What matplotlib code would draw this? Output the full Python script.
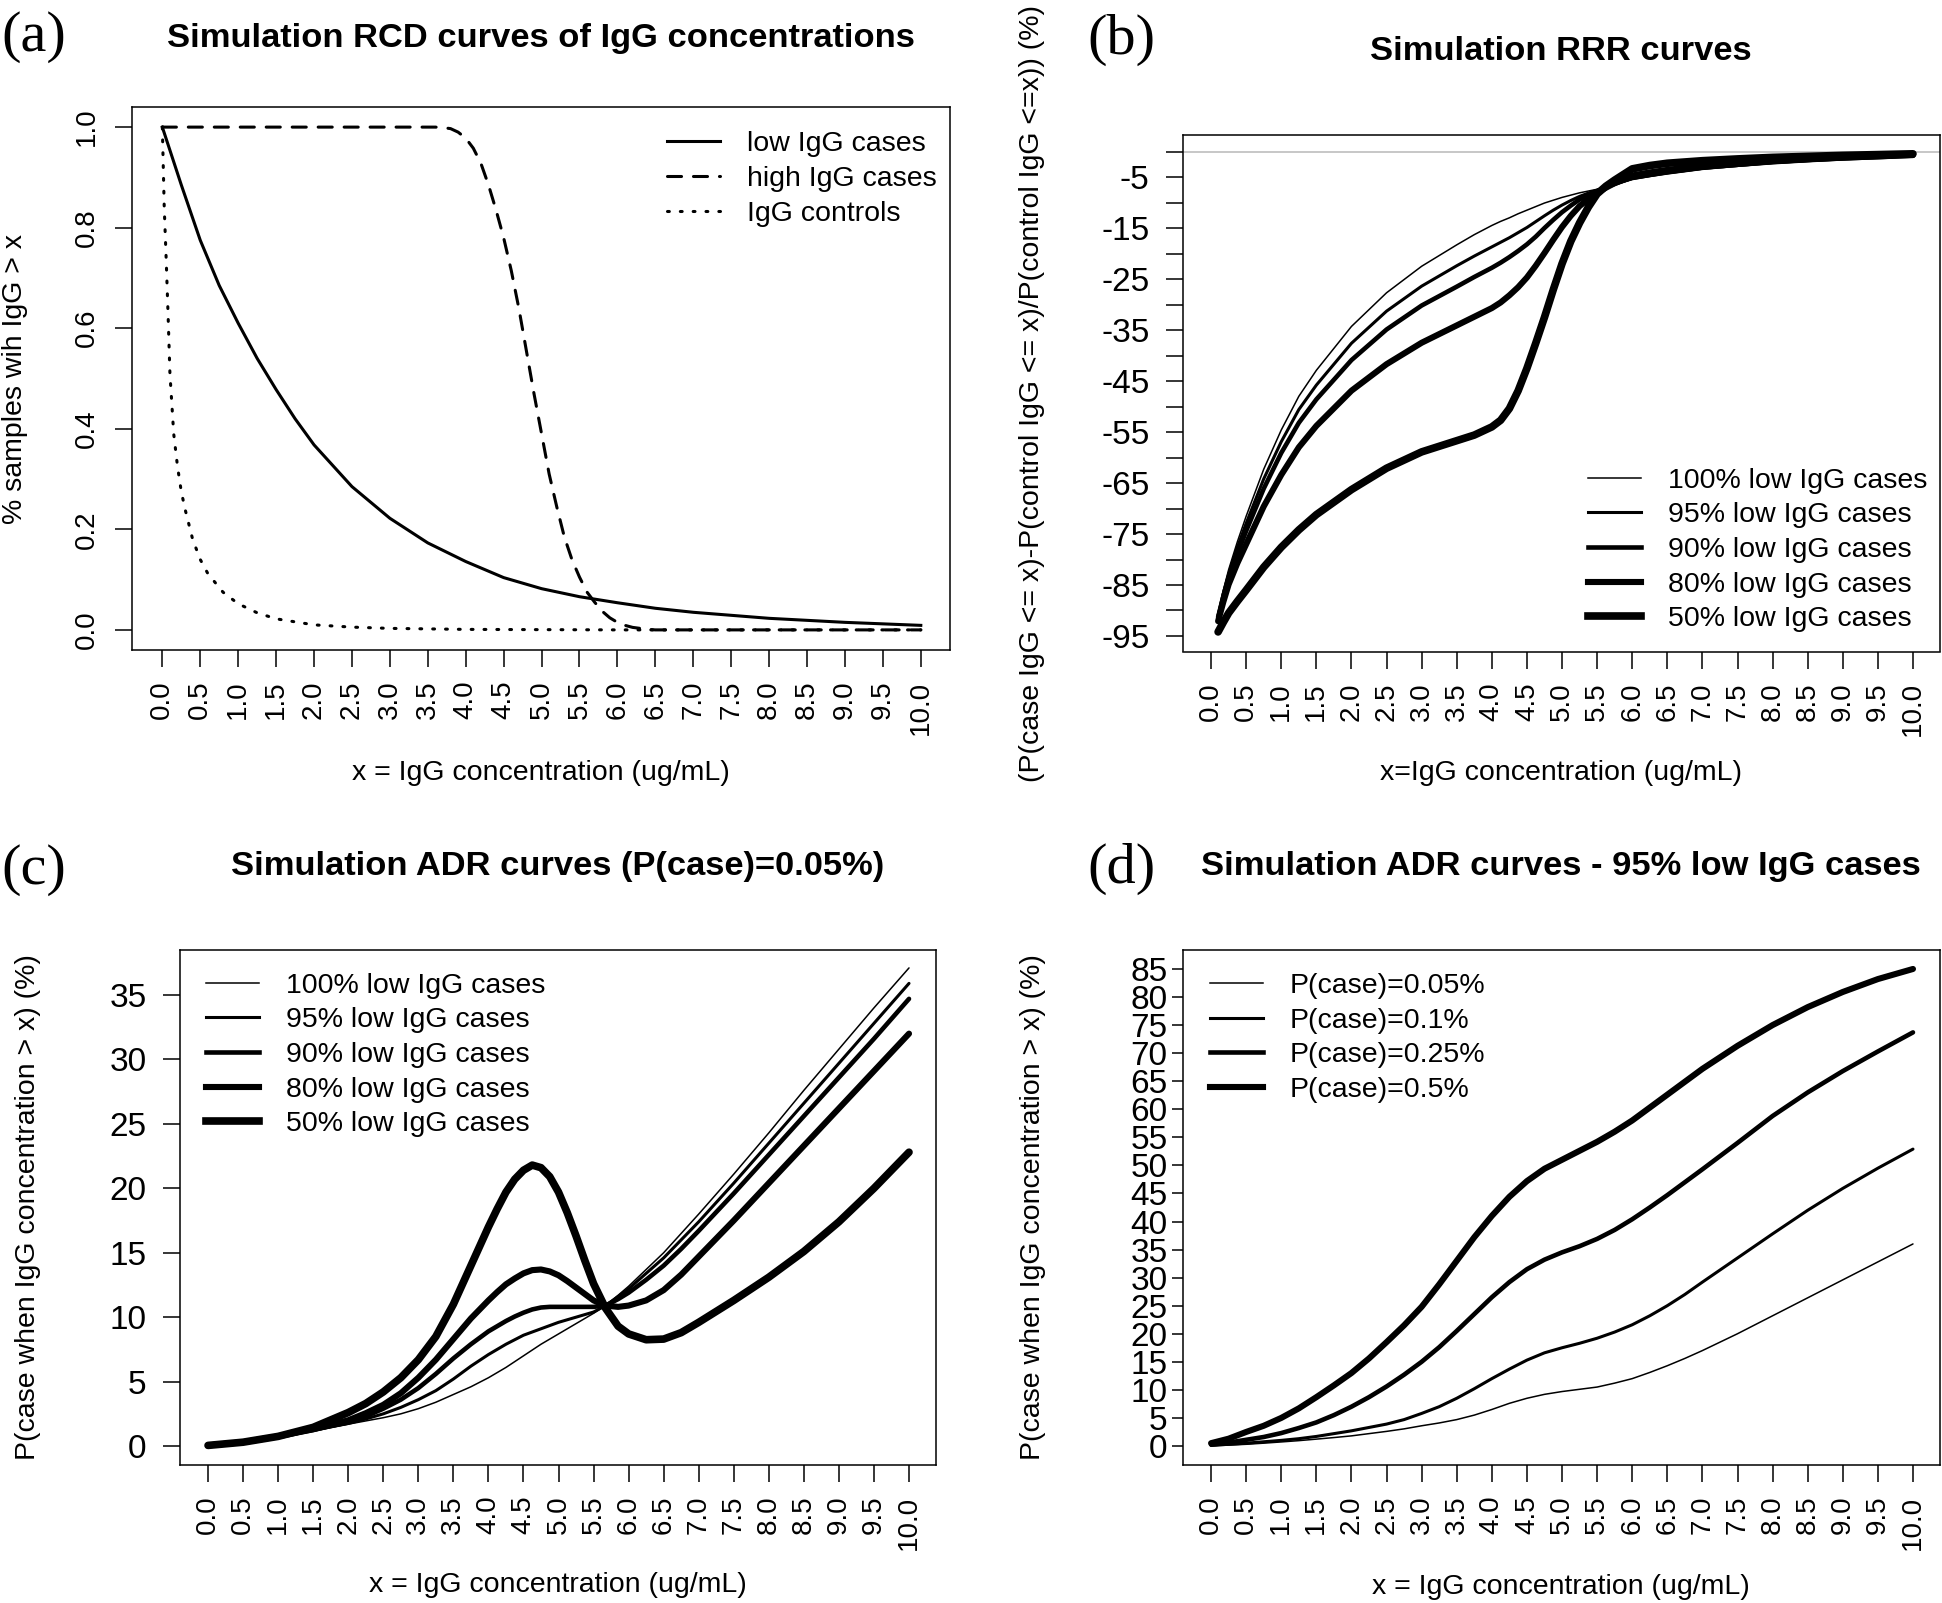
import numpy as np
import matplotlib
matplotlib.use('Agg')
import matplotlib.pyplot as plt
from matplotlib.lines import Line2D

# ---- panel (a): RCD curves ----
low_x = [0, 0.25, 0.5, 0.75, 1.0, 1.25, 1.5, 1.75, 2.0, 2.5, 3.0, 3.5, 4.0, 4.5, 5.0,
         5.5, 6.0, 6.5, 7.0, 7.5, 8.0, 8.5, 9.0, 9.5, 10.0]
low_cases = [1.0, 0.885, 0.775, 0.685, 0.61, 0.54, 0.478, 0.42, 0.368, 0.285, 0.222, 0.173,
             0.136, 0.104, 0.082, 0.066, 0.054, 0.043, 0.035, 0.029, 0.023, 0.019, 0.015,
             0.012, 0.009]
high_x = [0, 3.6, 3.7, 3.8, 3.9, 4.0, 4.1, 4.2, 4.3, 4.4, 4.5, 4.6, 4.7, 4.8, 4.9, 5.0,
          5.1, 5.2, 5.3, 5.4, 5.5, 5.6, 5.7, 5.8, 5.9, 6.0, 6.1, 6.2, 6.3, 6.4, 6.5, 10.0]
high_cases = [1.0, 1.0, 0.999, 0.997, 0.99, 0.978, 0.958, 0.928, 0.885, 0.835, 0.78, 0.715,
              0.64, 0.555, 0.47, 0.39, 0.31, 0.245, 0.185, 0.14, 0.105, 0.075, 0.055, 0.037,
              0.024, 0.015, 0.009, 0.005, 0.003, 0.001, 0.0, 0.0]
ctrl_x = [0, 0.025, 0.05, 0.075, 0.1, 0.15, 0.2, 0.25, 0.3, 0.4, 0.5, 0.6, 0.8, 1.0, 1.25,
          1.5, 2.0, 2.5, 3.0, 4.0, 5.0, 6.0, 10.0]
controls = [1.0, 0.84, 0.74, 0.63, 0.51, 0.39, 0.325, 0.275, 0.24, 0.18, 0.14, 0.112, 0.075,
            0.052, 0.034, 0.022, 0.01, 0.0055, 0.003, 0.001, 0.0005, 0.0, 0.0]

# ---- panel (b): RRR curves ----
rrr_x = [0.1, 0.175, 0.25, 0.375, 0.5, 0.75, 1.0, 1.25, 1.5, 2.0, 2.5, 3.0, 3.5, 3.75, 4.0,
         4.125, 4.25, 4.375, 4.5, 4.625, 4.75, 4.875, 5.0, 5.125, 5.25, 5.375, 5.5, 5.625,
         5.75, 6.0, 6.25, 6.5, 7.0, 7.5, 8.0, 8.5, 9.0, 9.5, 10.0]
rrr_100 = [-90.5, -86.0, -82.0, -76.5, -71.5, -62.3, -54.6, -48.0, -42.9, -34.3, -27.7, -22.5,
           -18.3, -16.3, -14.5, -13.7, -13.0, -12.2, -11.5, -10.8, -10.1, -9.55, -9.0, -8.55,
           -8.1, -7.75, -7.4, -6.95, -6.5, -5.5, -4.9, -4.4, -3.5, -2.9, -2.3, -1.9, -1.5,
           -1.2, -0.9]
rrr_95 = [-90.9, -86.6, -82.9, -77.6, -72.9, -64.2, -56.9, -50.6, -45.8, -37.6, -31.3, -26.4,
          -22.4, -20.5, -18.7, -17.8, -16.9, -15.9, -14.9, -13.75, -12.6, -11.5, -10.5, -9.6,
          -8.8, -8.15, -7.6, -7.0, -6.4, -5.3, -4.75, -4.2, -3.3, -2.75, -2.2, -1.8, -1.45,
          -1.15, -0.85]
rrr_90 = [-91.3, -87.2, -83.6, -78.8, -74.4, -66.1, -59.1, -53.2, -48.6, -40.9, -34.9, -30.2,
          -26.5, -24.6, -22.8, -21.8, -20.7, -19.5, -18.2, -16.7, -15.0, -13.4, -11.9, -10.6,
          -9.4, -8.5, -7.75, -7.0, -6.35, -5.1, -4.55, -4.0, -3.15, -2.6, -2.1, -1.7, -1.35,
          -1.1, -0.8]
rrr_80 = [-92.1, -88.3, -84.9, -80.7, -77.0, -69.6, -63.4, -58.0, -53.8, -46.9, -41.7, -37.5,
          -34.1, -32.4, -30.7, -29.6, -28.2, -26.6, -24.7, -22.4, -19.9, -17.3, -14.8, -12.6,
          -10.7, -9.3, -8.1, -7.1, -6.2, -4.7, -4.1, -3.6, -2.8, -2.3, -1.85, -1.5, -1.2,
          -0.95, -0.7]
rrr_50 = [-94.2, -92.3, -90.5, -88.2, -86.0, -81.5, -77.6, -74.2, -71.2, -66.3, -62.1, -58.9,
          -56.7, -55.6, -54.0, -52.7, -50.4, -46.9, -42.5, -37.6, -32.5, -27.1, -22.0, -17.6,
          -14.0, -10.9, -8.3, -6.8, -5.6, -3.4, -2.75, -2.3, -1.8, -1.45, -1.15, -0.95, -0.75,
          -0.6, -0.45]

# ---- panel (c): ADR curves, P(case)=0.05% ----
adr_x = [0, 0.5, 1.0, 1.5, 2.0, 2.25, 2.5, 2.75, 3.0, 3.25, 3.5, 3.75, 4.0, 4.125, 4.25,
         4.375, 4.5, 4.625, 4.75, 4.875, 5.0, 5.125, 5.25, 5.375, 5.5, 5.67, 5.85, 6.0, 6.25,
         6.5, 6.75, 7.0, 7.5, 8.0, 8.5, 9.0, 9.5, 10.0]
adr_100 = [0.05, 0.3, 0.72, 1.2, 1.7, 1.95, 2.2, 2.5, 2.9, 3.4, 4.0, 4.6, 5.3, 5.7, 6.1, 6.55,
           7.0, 7.45, 7.9, 8.3, 8.7, 9.1, 9.5, 9.9, 10.3, 10.9, 11.7, 12.4, 13.7, 15.0, 16.5,
           18.0, 21.1, 24.3, 27.6, 30.8, 34.0, 37.1]
adr_95 = [0.05, 0.3, 0.72, 1.22, 1.75, 2.1, 2.5, 3.0, 3.6, 4.3, 5.2, 6.2, 7.1, 7.5, 7.9, 8.25,
          8.6, 8.85, 9.1, 9.35, 9.6, 9.8, 10.0, 10.2, 10.4, 10.9, 11.6, 12.2, 13.4, 14.6, 16.0,
          17.4, 20.4, 23.5, 26.6, 29.7, 32.8, 35.9]
adr_90 = [0.05, 0.3, 0.73, 1.25, 1.85, 2.3, 2.9, 3.6, 4.5, 5.6, 6.8, 7.9, 8.9, 9.3, 9.7, 10.05,
          10.35, 10.6, 10.75, 10.8, 10.8, 10.8, 10.8, 10.8, 10.8, 10.9, 11.4, 11.9, 12.9, 14.0,
          15.3, 16.7, 19.6, 22.6, 25.6, 28.6, 31.6, 34.7]
adr_80 = [0.05, 0.3, 0.75, 1.3, 2.0, 2.55, 3.2, 4.1, 5.3, 6.7, 8.3, 9.9, 11.3, 11.95, 12.55,
          13.0, 13.4, 13.65, 13.7, 13.55, 13.25, 12.8, 12.3, 11.8, 11.3, 10.9, 10.8, 10.9, 11.3,
          12.1, 13.3, 14.7, 17.5, 20.4, 23.3, 26.2, 29.1, 32.0]
adr_50 = [0.05, 0.3, 0.75, 1.45, 2.6, 3.3, 4.2, 5.3, 6.7, 8.5, 11.0, 14.0, 17.0, 18.4, 19.7,
          20.7, 21.4, 21.8, 21.6, 20.9, 19.7, 18.1, 16.3, 14.4, 12.6, 10.7, 9.3, 8.7, 8.25, 8.3,
          8.8, 9.6, 11.3, 13.1, 15.1, 17.4, 20.0, 22.8]

# ---- panel (d): ADR curves, 95% low IgG cases ----
adr95_x = [0, 0.25, 0.5, 0.75, 1.0, 1.25, 1.5, 1.75, 2.0, 2.25, 2.5, 2.75, 3.0, 3.25, 3.5,
           3.75, 4.0, 4.25, 4.5, 4.75, 5.0, 5.25, 5.5, 5.75, 6.0, 6.25, 6.5, 6.75, 7.0, 7.5,
           8.0, 8.5, 9.0, 9.5, 10.0]
pc_005 = [0.05, 0.15, 0.3, 0.5, 0.72, 0.95, 1.22, 1.5, 1.8, 2.2, 2.6, 3.05, 3.6, 4.1, 4.7,
          5.5, 6.5, 7.6, 8.5, 9.2, 9.7, 10.1, 10.5, 11.2, 12.0, 13.1, 14.3, 15.6, 17.0, 20.0,
          23.2, 26.4, 29.6, 32.8, 36.0]
pc_01 = [0.1, 0.3, 0.5, 0.75, 1.0, 1.3, 1.7, 2.2, 2.7, 3.3, 3.9, 4.7, 5.8, 7.0, 8.5, 10.2,
         12.0, 13.7, 15.3, 16.6, 17.5, 18.3, 19.2, 20.3, 21.6, 23.2, 25.0, 27.0, 29.2, 33.5,
         37.8, 42.0, 45.9, 49.5, 52.9]
pc_025 = [0.25, 0.6, 1.1, 1.6, 2.3, 3.2, 4.2, 5.5, 7.0, 8.7, 10.6, 12.7, 15.0, 17.6, 20.5,
          23.5, 26.5, 29.2, 31.5, 33.2, 34.5, 35.6, 36.9, 38.5, 40.4, 42.5, 44.7, 47.0, 49.3,
          54.0, 58.8, 63.0, 66.8, 70.3, 73.7]
pc_05 = [0.5, 1.3, 2.5, 3.6, 5.0, 6.7, 8.7, 10.8, 13.0, 15.6, 18.5, 21.5, 24.8, 28.8, 33.0,
         37.2, 41.0, 44.4, 47.2, 49.4, 51.0, 52.6, 54.2, 56.0, 58.0, 60.3, 62.6, 64.9, 67.2,
         71.3, 75.0, 78.2, 80.9, 83.2, 85.0]

W, H = 1942, 1603
SANS = 'Liberation Sans'
SERIF = 'Liberation Serif'
FS = 20.5
YFS = 24
plt.rcParams['font.family'] = SANS

fig = plt.figure(figsize=(W / 100, H / 100), dpi=100)
fig.patch.set_facecolor('white')


def fpos(x, y):
    return x / W, 1 - y / H


def axes_at(left, top, right, bottom):
    return fig.add_axes([left / W, 1 - bottom / H, (right - left) / W, (bottom - top) / H])


def style(ax):
    for s in ax.spines.values():
        s.set_linewidth(1.1)
    ax.tick_params(direction='out', length=12, width=1.1, labelsize=FS - 0.5, pad=10)
    xt = np.arange(0, 10.01, 0.5)
    ax.set_xticks(xt)
    ax.set_xticklabels([f'{v:.1f}' for v in xt], rotation=90)
    ax.set_xlim(-0.4, 10.385)


def put_legend(ax, handles, labels, x, y):
    ax.legend(handles, labels, loc='center left', bbox_to_anchor=fpos(x, y),
              bbox_transform=fig.transFigure, frameon=False, borderpad=0, borderaxespad=0,
              handlelength=1.86, handletextpad=0.95, labelspacing=0.3, fontsize=FS)


widths5 = [1.1, 2.2, 3.3, 4.4, 5.5]
lab5 = ['100% low IgG cases', '95% low IgG cases', '90% low IgG cases',
        '80% low IgG cases', '50% low IgG cases']
DASH = dict(dashes=(4.6, 3.9), dash_capstyle='round')
DOT = dict(dashes=(0.6, 3.6), dash_capstyle='round')

# (a)
ax = axes_at(132, 107, 950, 650)
style(ax)
ax.plot(low_x, low_cases, color='black', lw=2.2)
ax.plot(high_x, high_cases, color='black', lw=2.2, **DASH)
ax.plot(ctrl_x, controls, color='black', lw=2.2, **DOT)
ax.set_ylim(-0.04, 1.04)
yt = [0.0, 0.2, 0.4, 0.6, 0.8, 1.0]
ax.set_yticks(yt)
ax.set_yticklabels([f'{v:.1f}' for v in yt], rotation=90, va='center')
ax.tick_params(axis='y', pad=11)
hd = [Line2D([], [], color='black', lw=2.2),
      Line2D([], [], color='black', lw=2.2, **DASH),
      Line2D([], [], color='black', lw=2.2, **DOT)]
put_legend(ax, hd, ['low IgG cases', 'high IgG cases', 'IgG controls'], 667, 179)
fig.text(*fpos(541, 38), 'Simulation RCD curves of IgG concentrations', fontsize=24.8,
         fontweight='bold', ha='center', va='center')
fig.text(*fpos(1, 37), '(a)', fontsize=42, family=SERIF, ha='left', va='center')
fig.text(*fpos(15, 379), '% samples wih IgG > x', fontsize=FS, rotation=90,
         ha='center', va='center')
fig.text(*fpos(541, 773), 'x = IgG concentration (ug/mL)', fontsize=FS, ha='center', va='center')

# (b)
ax = axes_at(1183, 135, 1940, 651.5)
style(ax)
ax.axhline(0, color='#bdbdbd', lw=1.2)
for ys, lw in zip([rrr_100, rrr_95, rrr_90, rrr_80, rrr_50], widths5):
    ax.plot(rrr_x, ys, color='black', lw=lw, solid_capstyle='round', solid_joinstyle='round')
ax.set_ylim(-98.04, 3.24)
yt = list(range(0, -96, -5))
ax.set_yticks(yt)
ax.set_yticklabels([str(v) if v % 10 else '' for v in yt])
ax.tick_params(axis='y', pad=12, labelsize=YFS)
hd = [Line2D([], [], color='black', lw=lw) for lw in widths5]
put_legend(ax, hd, lab5, 1588, 550)
fig.text(*fpos(1561, 51), 'Simulation RRR curves', fontsize=24.8, fontweight='bold',
         ha='center', va='center')
fig.text(*fpos(1087, 40), '(b)', fontsize=42, family=SERIF, ha='left', va='center')
fig.text(*fpos(1032, 393), '(P(case IgG <= x)-P(control IgG <= x)/P(control IgG <=x)) (%)',
         fontsize=FS, rotation=90, ha='center', va='center')
fig.text(*fpos(1561, 773), 'x=IgG concentration (ug/mL)', fontsize=FS, ha='center', va='center')

# (c)
ax = axes_at(180, 950, 936, 1465)
style(ax)
for ys, lw in zip([adr_100, adr_95, adr_90, adr_80, adr_50], widths5):
    ax.plot(adr_x, ys, color='black', lw=lw, solid_capstyle='round', solid_joinstyle='round')
ax.set_ylim(-1.47, 38.49)
ax.set_yticks(range(0, 36, 5))
ax.tick_params(axis='y', pad=12, labelsize=YFS)
hd = [Line2D([], [], color='black', lw=lw) for lw in widths5]
put_legend(ax, hd, lab5, 206, 1055)
fig.text(*fpos(558, 866), 'Simulation ADR curves (P(case)=0.05%)', fontsize=24.8,
         fontweight='bold', ha='center', va='center')
fig.text(*fpos(1, 870), '(c)', fontsize=42, family=SERIF, ha='left', va='center')
fig.text(*fpos(28, 1207), 'P(case when IgG concentration > x) (%)', fontsize=FS, rotation=90,
         ha='center', va='center')
fig.text(*fpos(558, 1585), 'x = IgG concentration (ug/mL)', fontsize=FS, ha='center', va='center')

# (d)
widths4 = [1.1, 2.2, 3.3, 4.4]
ax = axes_at(1183, 950, 1940, 1465)
style(ax)
for ys, lw in zip([pc_005, pc_01, pc_025, pc_05], widths4):
    ax.plot(adr95_x, ys, color='black', lw=lw, solid_capstyle='round', solid_joinstyle='round')
ax.set_ylim(-3.39, 88.38)
ax.set_yticks(range(0, 86, 5))
ax.tick_params(axis='y', length=8, pad=3, labelsize=YFS)
hd = [Line2D([], [], color='black', lw=lw) for lw in widths4]
put_legend(ax, hd, ['P(case)=0.05%', 'P(case)=0.1%', 'P(case)=0.25%', 'P(case)=0.5%'],
           1210, 1038)
fig.text(*fpos(1561, 866), 'Simulation ADR curves - 95% low IgG cases', fontsize=24.8,
         fontweight='bold', ha='center', va='center')
fig.text(*fpos(1087, 869), '(d)', fontsize=42, family=SERIF, ha='left', va='center')
fig.text(*fpos(1033, 1207), 'P(case when IgG concentration > x) (%)', fontsize=FS, rotation=90,
         ha='center', va='center')
fig.text(*fpos(1561, 1587), 'x = IgG concentration (ug/mL)', fontsize=FS, ha='center', va='center')

fig.savefig('out.png', dpi=100)
